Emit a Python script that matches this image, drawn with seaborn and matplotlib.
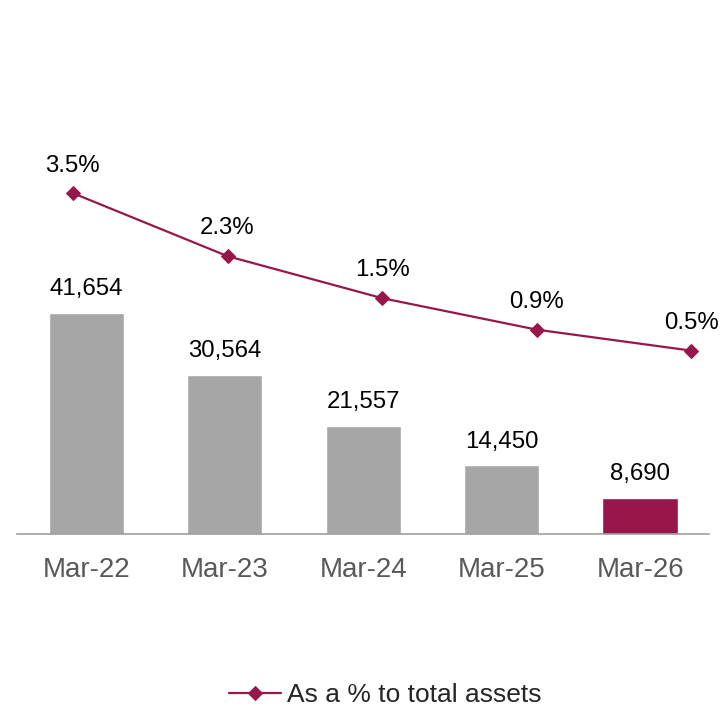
import matplotlib
matplotlib.use("Agg")
import matplotlib.pyplot as plt
import pandas as pd
import seaborn as sns

# %%
periods = ["Mar-22", "Mar-23", "Mar-24", "Mar-25", "Mar-26"]
amounts = [41654, 30564, 21557, 14450, 8690]
pct_of_assets = [3.5, 2.3, 1.5, 0.9, 0.5]
amount_labels = ["41,654", "30,564", "21,557", "14,450", "8,690"]
pct_labels = ["3.5%", "2.3%", "1.5%", "0.9%", "0.5%"]
legend_label = "As a % to total assets"

GRAY = "#A6A6A6"
CRIMSON = "#98174B"

df = pd.DataFrame({"period": periods, "amount": amounts, "pct": pct_of_assets})

sns.set_style("white")
plt.rcParams["font.family"] = ["Liberation Sans", "DejaVu Sans"]

fig = plt.figure(figsize=(7.22, 7.11), dpi=100)
W, H = 722, 711
rect = [17 / W, 1 - 534.3 / H, (709.3 - 17) / W, (534.3 - 20) / H]
ax = fig.add_axes(rect)

sns.barplot(
    data=df, x="period", y="amount", hue="period",
    palette=[GRAY] * 4 + [CRIMSON], width=0.543, legend=False, ax=ax,
    saturation=1,
)
ax.set_xlim(-0.5, 4.5)
ax.set_ylim(2174, 93817)
for i, (v, lab) in enumerate(zip(amounts, amount_labels)):
    ax.annotate(lab, (i, v), xytext=(0, 9), textcoords="offset points",
                ha="center", va="bottom", fontsize=17.3, color="black")

for s in ["top", "right", "left"]:
    ax.spines[s].set_visible(False)
ax.spines["bottom"].set_color("#A0A0A0")
ax.spines["bottom"].set_linewidth(1.2)
ax.set_yticks([])
ax.set_xlabel("")
ax.set_ylabel("")
ax.tick_params(axis="x", length=0, pad=16, labelsize=20, labelcolor="#595959")

# line on its own overlay axes
ax2 = fig.add_axes(rect, frameon=False)
sns.lineplot(x=list(range(len(periods))), y=pct_of_assets, ax=ax2, color=CRIMSON,
             linewidth=1.6, marker="D", markersize=7, markeredgecolor=CRIMSON,
             label=legend_label, legend=False)
ax2.set_xlim(-0.362, 4.117)
ax2.set_ylim(-3.0, 6.80)
ax2.set_xticks([])
ax2.set_yticks([])
for i, (v, lab) in enumerate(zip(pct_of_assets, pct_labels)):
    ax2.annotate(lab, (i, v), xytext=(0, 12), textcoords="offset points",
                 ha="center", va="bottom", fontsize=17.3, color="black")

handles, labels = ax2.get_legend_handles_labels()
fig.legend(handles, labels, loc="center", bbox_to_anchor=(0.533, 1 - 695 / H),
           frameon=False, fontsize=19, handlelength=2.0, handletextpad=0.2)

fig.savefig("out.png", dpi=100)
